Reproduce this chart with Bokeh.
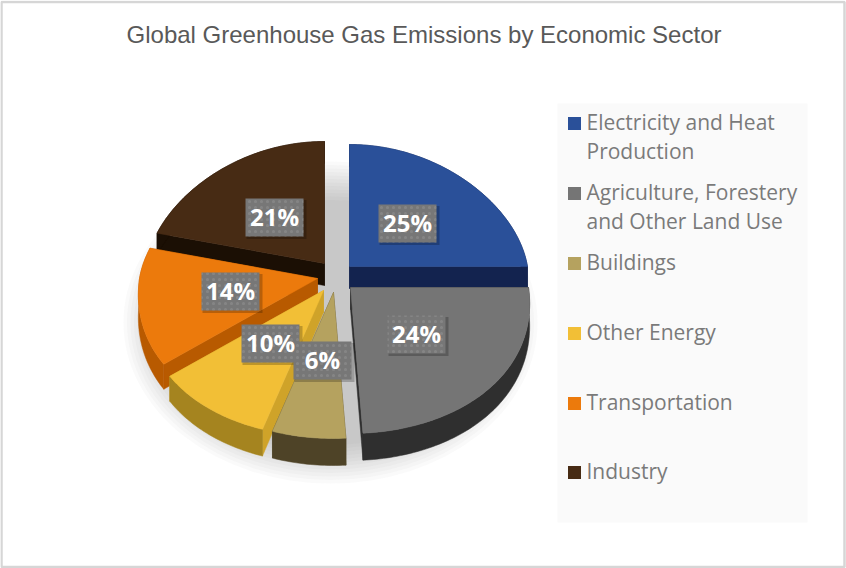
import math
from bokeh.plotting import figure
from bokeh.models import Range1d
from bokeh.core.properties import value
from bokeh.embed import file_html
from bokeh.resources import INLINE

# ---- data ----
title = "Global Greenhouse Gas Emissions by Economic Sector"
sectors = ["Electricity and Heat Production", "Agriculture, Forestery and Other Land Use",
           "Buildings", "Other Energy", "Transportation", "Industry"]
shares = [25, 24, 6, 10, 14, 21]
legend_lines = [["Electricity and Heat", "Production"],
                ["Agriculture, Forestery", "and Other Land Use"],
                ["Buildings"], ["Other Energy"], ["Transportation"], ["Industry"]]

# ---- styles / layout ----
top_colors = ["#2a5099", "#757575", "#b5a25f", "#f2bf36", "#ec7a0c", "#472b14"]
wall_colors = ["#13234f", "#2f2f2f", "#4e4327", "#a5841f", "#b85a00", "#1b0f04"]
cut_colors = ["#13234f", "#2f2f2f", "#4e4327", "#cfa329", "#b85a00", "#1b0f04"]
apex = [(349, 266), (350, 287), (333, 292), (323, 290), (317, 278), (324, 263)]
label_pos = [(407, 223), (416, 334), (322, 360), (270, 343), (230, 291), (274, 217)]
draw_order = [5, 0, 4, 1, 3, 2]
legend_y = [[121, 150], [191, 220], [261], [331], [401], [470]]
FONT = "Open Sans"


def offset(deg):
    a = math.radians(deg)
    s, c = math.sin(a), math.cos(a)
    dx = 178 * s * (1 - 0.115 * c)
    dy = -(122 if c > 0 else 146) * c
    return dx, dy


def depth(deg):
    return 22 + 5 * max(0.0, -math.cos(math.radians(deg)))


W, H = 846, 568
p = figure(width=W, height=H, x_range=Range1d(0, W), y_range=Range1d(H, 0),
           output_backend="svg", toolbar_location=None, min_border=0,
           outline_line_color=None, background_fill_color="white",
           border_fill_color="white", margin=(0, 0, 0, 0))
p.axis.visible = False
p.grid.visible = False

# chart frame
p.rect([422.5], [284], [843], [565], fill_color="white", line_color="#d6d6d6", line_width=2.5)

# soft ground shadow
for i in range(12):
    p.ellipse([330], [322], width=[414 - i * 7], height=[322 - i * 7],
              fill_color="#555555", fill_alpha=0.03, line_color=None)

# slices
start = 0.0
angles = []
for v in shares:
    angles.append((start, start + v * 3.6))
    start += v * 3.6

for i in draw_order:
    a0, a1 = angles[i]
    ax, ay = apex[i]
    n = max(3, int(a1 - a0))
    degs = [a0 + (a1 - a0) * k / n for k in range(n + 1)]
    top = [(ax + offset(d)[0], ay + offset(d)[1]) for d in degs]
    low = [(x, y + depth(d)) for (x, y), d in zip(top, degs)]
    dA = 22
    # radial cut walls
    for (x, y), (xl, yl) in ((top[0], low[0]), (top[-1], low[-1])):
        p.patch([ax, x, xl, ax], [ay, y, yl, ay + dA], fill_color=cut_colors[i], line_color=cut_colors[i], line_width=0.5)
    # outer wall
    xs = [q[0] for q in top] + [q[0] for q in reversed(low)]
    ys = [q[1] for q in top] + [q[1] for q in reversed(low)]
    p.patch(xs, ys, fill_color=wall_colors[i], line_color=wall_colors[i], line_width=0.5)
    # top face
    p.patch([ax] + [q[0] for q in top], [ay] + [q[1] for q in top],
            fill_color=top_colors[i], line_color=top_colors[i], line_width=0.5)

# data labels
lx = [q[0] for q in label_pos]
ly = [q[1] for q in label_pos]
p.rect([x + 2 for x in lx], [y + 2 for y in ly], width=[60] * 6, height=[39] * 6,
       fill_color="#000000", fill_alpha=0.22, line_color=None)
p.rect(lx, ly, width=[58] * 6, height=[38] * 6, fill_color="#777777", line_color=None,
       hatch_pattern="dot", hatch_color="#9a9a9a", hatch_alpha=0.4, hatch_scale=6, hatch_weight=1)
p.text(lx, [y - 1 for y in ly], text=[f"{v}%" for v in shares], text_color="white", text_font=value(FONT),
       text_font_style="bold", text_font_size="24px", text_align="center", text_baseline="middle")

# title
p.text([423.5], [34], text=[title], text_color="#595959", text_font=value("Liberation Sans"),
       text_font_size="24px", text_align="center", text_baseline="middle")

# legend
p.rect([682], [312.5], [250], [419], fill_color="#fafafa", line_color=None)
for color, lines, ys in zip(top_colors, legend_lines, legend_y):
    p.rect([574], [ys[0] + 2], [13], [13], fill_color=color, line_color=None)
    p.text([586] * len(lines), ys, text=lines, text_color="#7a7a7a", text_font=value(FONT),
           text_font_size="21px", text_align="left", text_baseline="middle")

open("out.html", "w").write(file_html(p, INLINE))
